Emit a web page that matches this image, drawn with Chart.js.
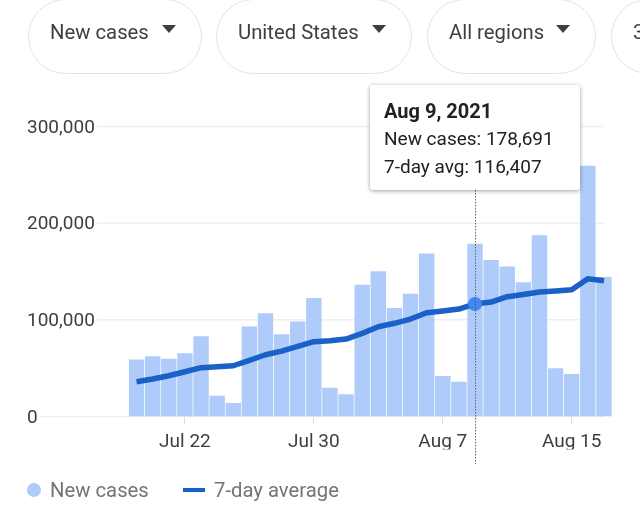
<!DOCTYPE html>
<html>
<head>
<meta charset="utf-8">
<script src="https://cdn.jsdelivr.net/npm/chart.js@4"></script>
<style>
html,body{margin:0;padding:0;background:#fff;width:640px;height:530px;overflow:hidden;font-family:Roboto,sans-serif}
#wrap{position:relative;width:640px;height:530px;overflow:hidden}
canvas{position:absolute;left:0;top:0}
.chip{position:absolute;top:-1px;height:73px;border:1.5px solid #e2e3e4;border-radius:38px;background:#fff;color:#3c4043;font-size:20.3px;line-height:64px;white-space:nowrap;box-sizing:content-box}
.chip span{position:absolute;left:21px;top:0}
.chip i{position:absolute;top:25px;width:0;height:0;border-left:7px solid transparent;border-right:7px solid transparent;border-top:8px solid #3c4043}
#tip{position:absolute;left:370px;top:85px;width:210px;height:105px;background:#fff;border-radius:3px;box-shadow:0 1px 4px rgba(0,0,0,.38);color:#202124;font-size:19px;box-sizing:border-box;padding:13px 0 0 14px;line-height:28px}
#tip b{font-weight:700;display:block;font-size:20px;line-height:26px;margin-bottom:1px}
#legend{position:absolute;left:0;top:476px;height:28px;width:640px;color:#70757a;font-size:20.3px;line-height:28px}
#legend span{position:absolute;top:0}
#legend i{position:absolute}
</style>
</head>
<body>
<div id="wrap">
<canvas id="c" width="640" height="530"></canvas>
<div id="chips"></div>
<div id="tip"></div>
<div id="legend"></div>
</div>
<script>
const filterLabels = ["New cases", "United States", "All regions", "3"];
const days = ["Jul 19","Jul 20","Jul 21","Jul 22","Jul 23","Jul 24","Jul 25","Jul 26","Jul 27","Jul 28","Jul 29","Jul 30","Jul 31","Aug 1","Aug 2","Aug 3","Aug 4","Aug 5","Aug 6","Aug 7","Aug 8","Aug 9","Aug 10","Aug 11","Aug 12","Aug 13","Aug 14","Aug 15","Aug 16","Aug 17"];
const newCases = [59000,62200,59800,65500,83000,21500,14000,93000,106700,85000,98200,122500,29800,23000,136300,150200,112300,127000,168500,42000,36000,178691,161800,155300,138800,187400,49800,44000,259500,144300];
const sevenDayAvg = [36000,38800,42200,46300,50500,51500,52500,58100,63900,67700,72500,77400,78400,80100,86000,92900,96400,100800,107300,109100,111200,116407,118400,123900,126300,128700,129800,131100,142500,140400];
const xTickLabels = ["Jul 22","Jul 30","Aug 7","Aug 15"];
const yTicks = [0,100000,200000,300000];
const seriesNames = ["New cases","7-day average"];
const tipNames = ["New cases","7-day avg"];
const activeDay = "Aug 9";
const activeYear = "2021";
const activeIndex = days.indexOf(activeDay);

const chipBoxes = [[28,172],[216,194],[427,167],[611,120]];
const chipsEl = document.getElementById('chips');
filterLabels.forEach((t,i)=>{
  const d=document.createElement('div');d.className='chip';
  d.style.left=chipBoxes[i][0]+'px';d.style.width=chipBoxes[i][1]+'px';
  const s=document.createElement('span');s.textContent=t;d.appendChild(s);
  if(i<3){const a=document.createElement('i');a.style.right='25px';d.appendChild(a);}
  chipsEl.appendChild(d);
});

const gridAndCursor = {
  id:'gridAndCursor',
  beforeDatasetsDraw(chart){
    const {ctx,scales:{y},chartArea}=chart;
    ctx.save();ctx.strokeStyle='#eeeff0';ctx.lineWidth=1.5;
    ctx.font='19px Roboto';
    y.ticks.forEach((t,i)=>{
      const py=y.getPixelForTick(i);
      const w=ctx.measureText(t.label).width;
      ctx.beginPath();ctx.moveTo(y.left+w+2,py);ctx.lineTo(chartArea.right-8,py);ctx.stroke();
    });
    ctx.restore();
  },
  afterDatasetsDraw(chart){
    const {ctx,scales:{x}}=chart;
    const px=Math.round(x.getPixelForValue(activeIndex))+0.5;
    ctx.save();ctx.strokeStyle='#5f6368';ctx.lineWidth=1;ctx.setLineDash([1.5,1.5]);
    ctx.beginPath();ctx.moveTo(px,190);ctx.lineTo(px,464);ctx.stroke();
    ctx.restore();
  }
};

const chart = new Chart(document.getElementById('c'),{
  type:'bar',
  data:{labels:days,datasets:[
    {type:'line',label:seriesNames[1],data:sevenDayAvg,borderColor:'#1a60c6',borderWidth:5.5,borderJoinStyle:'round',tension:0,order:0,
     pointRadius:c=>c.dataIndex===activeIndex?7:0,pointHoverRadius:7,pointBackgroundColor:'#4285f4',pointBorderWidth:0,pointHoverBorderWidth:0,pointHoverBackgroundColor:'#4285f4'},
    {type:'bar',label:seriesNames[0],data:newCases,backgroundColor:'#aecbfa',hoverBackgroundColor:'#aecbfa',barPercentage:1,categoryPercentage:0.955,order:1}
  ]},
  options:{
    responsive:false,animation:false,events:[],
    layout:{padding:{left:27,right:28,top:126.5,bottom:80.5}},
    plugins:{
      legend:{display:false},
      tooltip:{enabled:false,mode:'index',external(ctx){
        const tip=ctx.tooltip, el=document.getElementById('tip');
        if(!tip.dataPoints||!tip.dataPoints.length)return;
        el.innerHTML='';
        const b=document.createElement('b');b.textContent=activeDay+', '+activeYear;el.appendChild(b);
        [newCases,sevenDayAvg].forEach((arr,i)=>{
          const d=document.createElement('div');
          d.textContent=tipNames[i]+': '+arr[activeIndex].toLocaleString('en-US');el.appendChild(d);
        });
      }}
    },
    scales:{
      x:{offset:true,
        afterFit(s){s.height=33;},
        border:{display:false},
        grid:{offset:false,drawOnChartArea:false,drawTicks:true,tickLength:8,lineWidth:1,color:c=>xTickLabels.includes(days[c.index])?'#dadce0':'rgba(0,0,0,0)'},
        ticks:{autoSkip:false,maxRotation:0,padding:6,color:'#3c4043',font:{family:'Roboto',size:19},
          callback(v){const l=this.getLabelForValue(v);return xTickLabels.includes(l)?l:'';}}
      },
      y:{min:0,max:300000,
        afterFit(s){s.width=101.5;},
        afterBuildTicks(s){s.ticks=yTicks.map(v=>({value:v}));},
        border:{display:false},
        grid:{display:false},
        ticks:{crossAlign:'far',padding:0,labelOffset:1.5,color:'#3c4043',font:{family:'Roboto',size:19},callback:v=>v.toLocaleString('en-US')}
      }
    }
  },
  plugins:[gridAndCursor]
});
chart.tooltip.setActiveElements([{datasetIndex:0,index:activeIndex},{datasetIndex:1,index:activeIndex}],{x:0,y:0});
chart.setActiveElements([{datasetIndex:0,index:activeIndex}]);
chart.update();

const lg=document.getElementById('legend');
lg.innerHTML='<i style="left:27px;top:7px;width:14px;height:14px;border-radius:50%;background:#aecbfa"></i>'+
 '<span style="left:50px"></span>'+
 '<i style="left:183px;top:12px;width:22px;height:4px;background:#1a60c6"></i>'+
 '<span style="left:214px"></span>';
const sp=lg.querySelectorAll('span');sp[0].textContent=seriesNames[0];sp[1].textContent=seriesNames[1];
</script>
</body>
</html>
